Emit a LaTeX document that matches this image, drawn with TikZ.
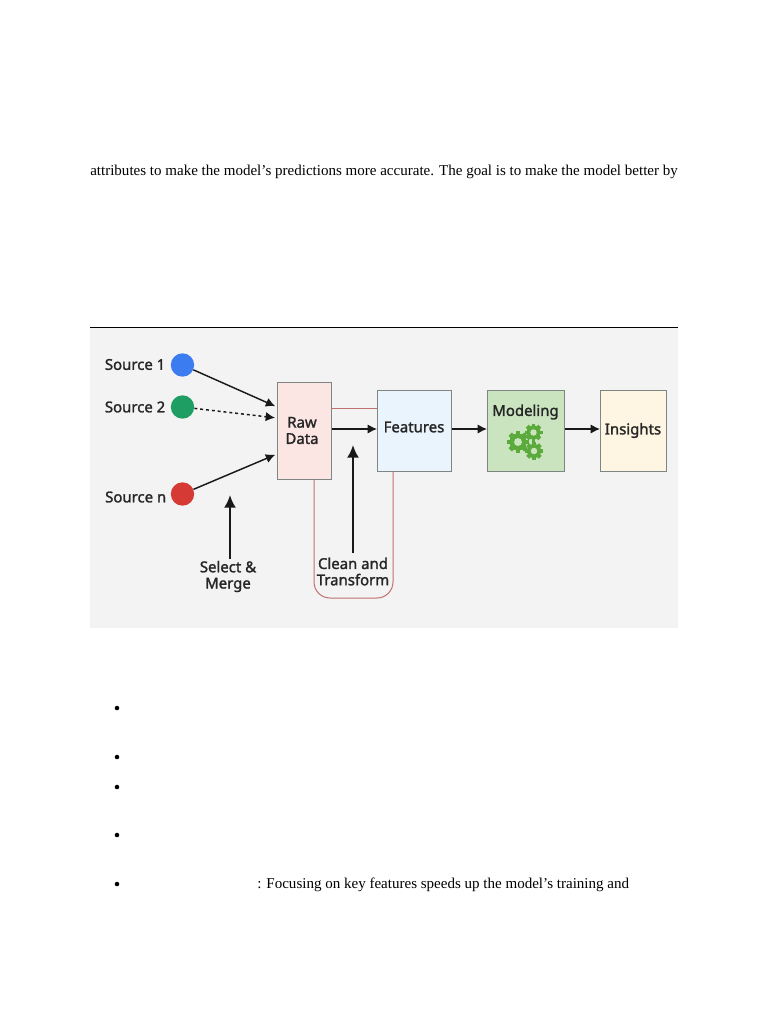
\documentclass[tikz,border=0pt]{standalone}
\usepackage{fontspec}
\setmainfont{Liberation Serif}
\newfontfamily\diagfont[FakeBold=1.6]{Noto Sans}
\usetikzlibrary{arrows.meta}
\definecolor{panel}{HTML}{F3F3F3}
\definecolor{boxedge}{HTML}{7F8583}
\definecolor{loopred}{HTML}{C0706F}
\definecolor{geargreen}{HTML}{5BAA3C}
\definecolor{gearbg}{HTML}{C9E4BE}
\definecolor{rawpink}{HTML}{FCE6E4}
\definecolor{featblue}{HTML}{E9F4FC}
\definecolor{insyellow}{HTML}{FEF6E2}
\definecolor{srcblue}{HTML}{3B7DF0}
\definecolor{srcgreen}{HTML}{1F9E64}
\definecolor{srcred}{HTML}{D63A35}
\tikzset{
  x=0.75pt,y=-0.75pt,
  box/.style={draw=boxedge,line width=0.9pt,inner sep=0pt,anchor=north west,align=center},
  label/.style={inner sep=0pt,align=center,font=\diagfont\fontsize{11.2}{12.2}\selectfont,text=black!85},
  src/.style={circle,minimum size=17.5pt,inner sep=0pt},
  flow/.style={-{Latex[length=7pt,width=7pt]},line width=1.1pt,black!90},
  bigflow/.style={-{Latex[length=9.5pt,width=9pt]},line width=1.6pt,black!90},
  redline/.style={draw=loopred,line width=0.75pt},
  body/.style={inner sep=0pt,font=\fontsize{11.27}{13}\selectfont,text=black},
  dot/.style={circle,fill=black,minimum size=3.4pt,inner sep=0pt},
}
\newcommand{\gearshape}[3]{%
  \begin{scope}[shift={(#1,#2)}]
    \fill[geargreen] (0,0) circle[radius=#3*0.78];
    \foreach \a in {0,45,...,315}{
      \fill[geargreen,rotate=\a] (-#3*0.22,-#3) rectangle (#3*0.22,0);
    }
    \fill[gearbg] (0,0) circle[radius=#3*0.36];
  \end{scope}
}
\begin{document}
\begin{tikzpicture}
\useasboundingbox (0,0) rectangle (768,1024);
\fill[white] (0,0) rectangle (768,1024);
\node[body,anchor=west] (topline) at (90,172) {attributes to make the model’s predictions more accurate. The goal is to make the model better by};
\fill[panel] (90,327) rectangle (678,628);
\draw[black,line width=0.7pt] (90,327) -- (678,327);

\node[box,fill=rawpink,minimum width=40.5pt,minimum height=72.75pt] (raw) at (277,382) {};
\node[box,fill=featblue,minimum width=55.5pt,minimum height=60.75pt] (feat) at (377,390) {};
\node[box,fill=gearbg,minimum width=57.75pt,minimum height=60.75pt] (model) at (487,390) {};
\node[box,fill=insyellow,minimum width=49.5pt,minimum height=60.75pt] (ins) at (600,390) {};
\node[label] (rawlabel) at (302,430.5) {Raw\\Data};
\node[label] (featlabel) at (414,427) {Features};
\node[label] (modlabel) at (525.5,412) {Modeling};
\node[label] (inslabel) at (633,430.5) {Insights};

\gearshape{518}{442}{11}
\gearshape{533.5}{432.5}{9}
\gearshape{534}{451}{9}

\node[src,fill=srcblue] (s1) at (182.5,365) {};
\node[src,fill=srcgreen] (s2) at (182.5,407) {};
\node[src,fill=srcred] (sn) at (182.5,494) {};
\node[label,anchor=east] (l1) at (165.5,364.5) {Source 1};
\node[label,anchor=east] (l2) at (165.5,407) {Source 2};
\node[label,anchor=east] (ln) at (166.5,497) {Source n};
\node[label] (sm) at (228,576.5) {Select \&\\Merge};
\node[label] (ct) at (353,571.5) {Clean and\\Transform};

\coordinate (smtip) at (230,495);
\coordinate (cttip) at (353,445);

\draw[flow,shorten >=1.5pt] (s1) -- (raw.west |- 0,407);
\draw[flow,dash pattern=on 2.2pt off 2.2pt,shorten >=1.5pt] (s2) -- (raw.west |- 0,418);
\draw[flow,shorten >=1.5pt] (sn) -- (raw.west |- 0,454);
\draw[bigflow,shorten <=1.5pt] (sm.north -| smtip) -- (smtip);
\draw[bigflow,shorten <=3pt] (ct.north) -- (cttip);

\draw[redline] (raw.east |- 0,408) -- (feat.west |- 0,408);
\draw[redline,rounded corners=12pt] (raw.south -| 314,0) -- (314,598) -- (393,598) -- (feat.south -| 393,0);

\draw[flow] (raw.east |- 0,429) -- (feat.west |- 0,429);
\draw[flow] (feat.east |- 0,429) -- (model.west |- 0,429);
\draw[flow] (model.east |- 0,429) -- (ins.west |- 0,429);

\node[dot] (b1) at (117,708) {};
\node[dot] (b2) at (117,757) {};
\node[dot] (b3) at (117,787) {};
\node[dot] (b4) at (117,835) {};
\node[dot] (b5) at (117,884) {};
\node[body,anchor=west] (t5) at (257,885) {: Focusing on key features speeds up the model’s training and};
\end{tikzpicture}
\end{document}
